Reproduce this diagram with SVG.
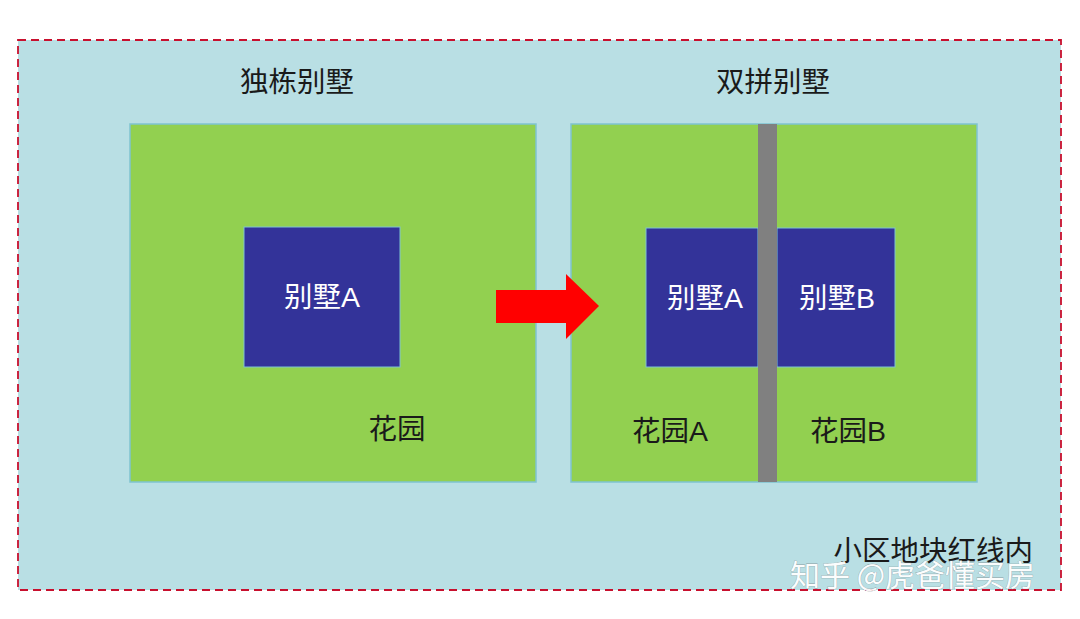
<svg xmlns="http://www.w3.org/2000/svg" width="1080" height="619" viewBox="0 0 1080 619">
<defs>
<style>
.t{font-family:"Liberation Sans","Noto Sans CJK SC",sans-serif;font-size:28.5px;text-anchor:middle;fill:#1a1a1a}
.w{fill:#ffffff}
.g{fill:#92d050;stroke:#7fc4cf;stroke-width:1.5}
.h{fill:#333399;stroke:#7fc4cf;stroke-width:1}
.wm{font-family:"Noto Sans CJK SC",sans-serif;font-size:30px;fill:#ffffff;stroke:#8a9a9c;stroke-width:0.6;paint-order:stroke;opacity:0.95}
</style>
</defs>
<rect width="1080" height="619" fill="#ffffff"/>
<g id="site">
<rect x="18" y="40" width="1043" height="550" fill="#b9dfe4" stroke="#c8102e" stroke-width="1.8" stroke-dasharray="8,5"/>
<text class="t" x="1033" y="561" style="text-anchor:end">小区地块红线内</text>
</g>
<g id="detached">
<text class="t" x="297" y="92">独栋别墅</text>
<rect class="g" x="130" y="124" width="406" height="358"/>
<rect class="h" x="244" y="227" width="156" height="140"/>
<text class="t w" x="322" y="307">别墅A</text>
<text class="t" x="397" y="439">花园</text>
</g>
<g id="semidetached">
<text class="t" x="773" y="92">双拼别墅</text>
<rect class="g" x="571" y="124" width="406" height="358"/>
<rect class="h" x="646" y="228" width="112" height="139"/>
<rect class="h" x="777" y="228" width="118" height="139"/>
<rect x="758" y="124" width="19" height="358" fill="#808080"/>
<text class="t w" x="705" y="308">别墅A</text>
<text class="t w" x="837" y="308">别墅B</text>
<text class="t" x="670" y="441">花园A</text>
<text class="t" x="848" y="441">花园B</text>
</g>
<g id="connectors">
<polygon points="496,290 566,290 566,274 599,306 566,339 566,323 496,323" fill="#ff0000"/>
</g>
<text class="wm" x="790" y="586">知乎 @虎爸懂买房</text>
</svg>
